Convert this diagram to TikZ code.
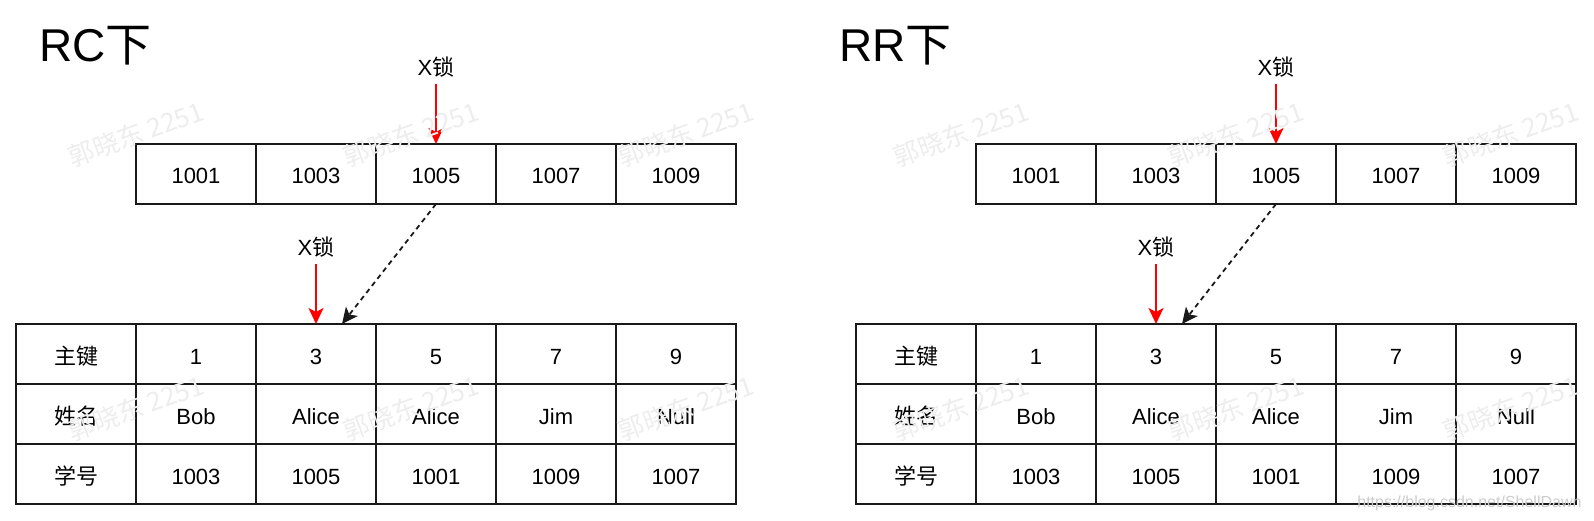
\documentclass[tikz,border=0pt]{standalone}
\usepackage{fontspec}
\setmainfont{Liberation Sans}
\newfontfamily\cjk{Noto Sans CJK SC}
\usetikzlibrary{arrows.meta, positioning}
\tikzset{
    cell/.style={rectangle, draw=black!90, line width=2pt, minimum width=120pt, minimum height=60pt, outer sep=0pt, inner sep=0pt, text height=20pt, text depth=0pt, font=\fontsize{22}{26}\selectfont},
    heading/.style={anchor=base west, inner sep=0pt, font=\fontsize{46}{52}\selectfont},
    lbl/.style={inner sep=0pt, font=\fontsize{22}{26}\selectfont},
    lockarrow/.style={draw=red, line width=2pt, shorten <=7pt, -{Stealth[length=16pt, width=15pt, inset=4pt]}},
    ptrarrow/.style={draw=black!90, line width=1.8pt, dash pattern=on 5pt off 4pt, -{Stealth[length=16pt, width=15pt, inset=4pt]}},
    wmark/.style={rotate=20, text=black!7, font=\cjk\fontsize{26}{30}\selectfont},
    wmurl/.style={anchor=east, text=black!20, font=\fontsize{16}{18}\selectfont}
}

\begin{document}
\begin{tikzpicture}[x=1pt, y=-1pt, node distance=0pt]
    \useasboundingbox (0,0) rectangle (1594,521);

    % RC side
    \node [heading] (rctitle) at (39,62) {RC{\cjk 下}};
    \node [cell] (rcpk0) at (76,354) {{\cjk 主键}};
    \node [cell, right=of rcpk0] (rcpk1) {1};
    \node [cell, right=of rcpk1] (rcpk2) {3};
    \node [cell, right=of rcpk2] (rcpk3) {5};
    \node [cell, right=of rcpk3] (rcpk4) {7};
    \node [cell, right=of rcpk4] (rcpk5) {9};
    \node [cell, below=of rcpk0] (rcname0) {{\cjk 姓名}};
    \node [cell, right=of rcname0] (rcname1) {Bob};
    \node [cell, right=of rcname1] (rcname2) {Alice};
    \node [cell, right=of rcname2] (rcname3) {Alice};
    \node [cell, right=of rcname3] (rcname4) {Jim};
    \node [cell, right=of rcname4] (rcname5) {Null};
    \node [cell, below=of rcname0] (rcno0) {{\cjk 学号}};
    \node [cell, right=of rcno0] (rcno1) {1003};
    \node [cell, right=of rcno1] (rcno2) {1005};
    \node [cell, right=of rcno2] (rcno3) {1001};
    \node [cell, right=of rcno3] (rcno4) {1009};
    \node [cell, right=of rcno4] (rcno5) {1007};
    \node [cell, above=120pt of rcpk1] (rcidx1) {1001};
    \node [cell, right=of rcidx1] (rcidx2) {1003};
    \node [cell, right=of rcidx2] (rcidx3) {1005};
    \node [cell, right=of rcidx3] (rcidx4) {1007};
    \node [cell, right=of rcidx4] (rcidx5) {1009};
    \node [lbl] (rclock1) at (436,67) {X{\cjk 锁}};
    \node [lbl] (rclock2) at (316,247) {X{\cjk 锁}};

    % RR side
    \node [heading] (rrtitle) at (839,62) {RR{\cjk 下}};
    \node [cell] (rrpk0) at (916,354) {{\cjk 主键}};
    \node [cell, right=of rrpk0] (rrpk1) {1};
    \node [cell, right=of rrpk1] (rrpk2) {3};
    \node [cell, right=of rrpk2] (rrpk3) {5};
    \node [cell, right=of rrpk3] (rrpk4) {7};
    \node [cell, right=of rrpk4] (rrpk5) {9};
    \node [cell, below=of rrpk0] (rrname0) {{\cjk 姓名}};
    \node [cell, right=of rrname0] (rrname1) {Bob};
    \node [cell, right=of rrname1] (rrname2) {Alice};
    \node [cell, right=of rrname2] (rrname3) {Alice};
    \node [cell, right=of rrname3] (rrname4) {Jim};
    \node [cell, right=of rrname4] (rrname5) {Null};
    \node [cell, below=of rrname0] (rrno0) {{\cjk 学号}};
    \node [cell, right=of rrno0] (rrno1) {1003};
    \node [cell, right=of rrno1] (rrno2) {1005};
    \node [cell, right=of rrno2] (rrno3) {1001};
    \node [cell, right=of rrno3] (rrno4) {1009};
    \node [cell, right=of rrno4] (rrno5) {1007};
    \node [cell, above=120pt of rrpk1] (rridx1) {1001};
    \node [cell, right=of rridx1] (rridx2) {1003};
    \node [cell, right=of rridx2] (rridx3) {1005};
    \node [cell, right=of rridx3] (rridx4) {1007};
    \node [cell, right=of rridx4] (rridx5) {1009};
    \node [lbl] (rrlock1) at (1276,67) {X{\cjk 锁}};
    \node [lbl] (rrlock2) at (1156,247) {X{\cjk 锁}};

    % Draw edges
    \draw [lockarrow] (rclock1) -- (rcidx3);
    \draw [lockarrow] (rclock2) -- (rcpk2);
    \draw [ptrarrow] (rcidx3.south) -- ([xshift=26pt]rcpk2.north);
    \draw [lockarrow] (rrlock1) -- (rridx3);
    \draw [lockarrow] (rrlock2) -- (rrpk2);
    \draw [ptrarrow] (rridx3.south) -- ([xshift=26pt]rrpk2.north);

    % Watermarks
    \node [wmark] (wm1) at (136,134) {郭晓东 2251};
    \node [wmark] (wm2) at (411,134) {郭晓东 2251};
    \node [wmark] (wm3) at (686,134) {郭晓东 2251};
    \node [wmark] (wm4) at (961,134) {郭晓东 2251};
    \node [wmark] (wm5) at (1236,134) {郭晓东 2251};
    \node [wmark] (wm6) at (1511,134) {郭晓东 2251};
    \node [wmark] (wm7) at (136,408) {郭晓东 2251};
    \node [wmark] (wm8) at (411,408) {郭晓东 2251};
    \node [wmark] (wm9) at (686,408) {郭晓东 2251};
    \node [wmark] (wm10) at (961,408) {郭晓东 2251};
    \node [wmark] (wm11) at (1236,408) {郭晓东 2251};
    \node [wmark] (wm12) at (1511,408) {郭晓东 2251};
    \node [wmurl] (url) at (1585,503) {https://blog.csdn.net/ShellDawn};
\end{tikzpicture}
\end{document}
